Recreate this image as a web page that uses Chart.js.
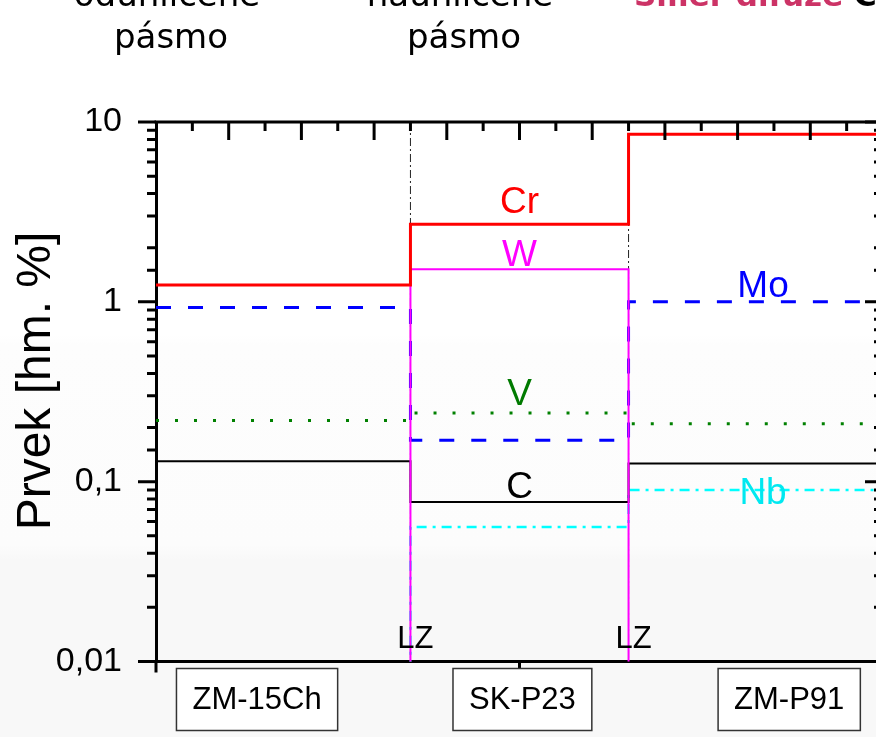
<!DOCTYPE html>
<html>
<head>
<meta charset="utf-8">
<script src="https://cdn.jsdelivr.net/npm/chart.js@4.4.1/dist/chart.umd.min.js"></script>
<style>
  html, body { margin: 0; padding: 0; background: #fff; }
  #wrap {
    width: 876px; height: 737px; overflow: hidden; position: relative;
    background: linear-gradient(to bottom, #fff 0, #fff 335px, #fdfdfd 345px, #fcfcfc 545px, #f8f8f8 560px, #f8f8f8 100%);
  }
  #wrap canvas { position: absolute; left: 0; top: 0; }
</style>
</head>
<body>
<div id="wrap"><canvas id="Chart-canvas" width="900" height="737"></canvas></div>
<script>
// zone boundaries along the weld cross-section (LZ = fusion line)
const zoneEdges = [0, 3.5, 6.5, 10];
const lzAt = [3.5, 6.5];
const zoneNames = ['ZM-15Ch', 'SK-P23', 'ZM-P91'];

// content per zone [hm. %]; ABSENT = element not present (below the axis)
const ABSENT = 0.001;
const cr = [1.24, 2.70, 8.55];
const w  = [ABSENT, 1.52, ABSENT];
const mo = [0.93, 0.17, 1.0];
const v  = [0.219, 0.241, 0.210];
const c  = [0.130, 0.077, 0.126];
const nb = [ABSENT, 0.056, 0.090];

const yTickValues = [0.01, 0.1, 1, 10];
const yTickLabels = ['0,01', '0,1', '1', '10'];

const ctx = document.getElementById('Chart-canvas');

const stepPoints = (vals) => {
  const pts = [];
  vals.forEach((val, i) => {
    pts.push({ x: zoneEdges[i], y: val });
    pts.push({ x: zoneEdges[i + 1], y: val });
  });
  return pts;
};

const series = (label, vals, color, width, dash) => ({
  label: label,
  data: stepPoints(vals),
  borderColor: color,
  borderWidth: width,
  borderDash: dash,
  pointRadius: 0,
  tension: 0,
  fill: false
});

const lzLine = (x) => ({
  label: 'LZ',
  data: [{ x: x, y: 10 }, { x: x, y: 0.01 }],
  borderColor: '#222',
  borderWidth: 1,
  borderDash: [8, 3, 2, 3],
  pointRadius: 0,
  fill: false
});

// element name written next to its line: zone, x position, baseline offset in px
const elementTags = [
  { text: 'Cr', vals: cr, zone: 1, x: 5,    dy: -11, color: '#ff0000' },
  { text: 'W',  vals: w,  zone: 1, x: 5,    dy: -3,  color: '#ff00ff' },
  { text: 'Mo', vals: mo, zone: 2, x: 8.35, dy: -5,  color: '#0000ff' },
  { text: 'V',  vals: v,  zone: 1, x: 5,    dy: -8,  color: '#007a00' },
  { text: 'C',  vals: c,  zone: 1, x: 5,    dy: -4,  color: '#000000' },
  { text: 'Nb', vals: nb, zone: 2, x: 8.35, dy: 14,  color: '#00e8f0' }
];

const extras = {
  id: 'extras',
  afterDraw(chart) {
    const g = chart.ctx;
    const a = chart.chartArea;
    const xs = chart.scales.x;
    const ys = chart.scales.y;
    g.save();

    // top and right frame
    g.strokeStyle = '#000';
    g.lineWidth = 3;
    g.beginPath();
    g.moveTo(a.left - 1.5, a.top);
    g.lineTo(a.right, a.top);
    g.lineTo(a.right, a.bottom);
    g.stroke();

    // log ticks: outward on the left, inward on the right
    ys.ticks.forEach(t => {
      const lg = Math.log10(t.value);
      const major = Math.abs(lg - Math.round(lg)) < 1e-6;
      const len = major ? 18 : 9;
      const py = ys.getPixelForValue(t.value);
      g.beginPath();
      g.moveTo(a.left - len, py);
      g.lineTo(a.left, py);
      g.moveTo(a.right - len, py);
      g.lineTo(a.right, py);
      g.stroke();
    });

    // top axis: inward ticks every 0.5
    for (let xv = 0.5; xv < 10; xv += 0.5) {
      const len = Number.isInteger(xv) ? 18 : 9;
      const px = xs.getPixelForValue(xv);
      g.beginPath();
      g.moveTo(px, a.top);
      g.lineTo(px, a.top + len);
      g.stroke();
    }
    // bottom axis: outward ticks
    [0, 5, 10].forEach(xv => {
      const px = xs.getPixelForValue(xv);
      g.beginPath();
      g.moveTo(px, a.bottom);
      g.lineTo(px, a.bottom + 11);
      g.stroke();
    });

    // LZ labels
    g.fillStyle = '#000';
    g.font = '31px "Liberation Sans", Arial, sans-serif';
    g.textAlign = 'center';
    g.textBaseline = 'alphabetic';
    lzAt.forEach(xv => g.fillText('LZ', xs.getPixelForValue(xv) + 5, a.bottom - 14));

    // element tags
    g.font = '37px "Liberation Sans", Arial, sans-serif';
    elementTags.forEach(tag => {
      g.fillStyle = tag.color;
      g.fillText(tag.text, xs.getPixelForValue(tag.x), ys.getPixelForValue(tag.vals[tag.zone]) + tag.dy);
    });

    // zone name boxes under the axis
    const boxAt = [1.39, 5.04, 8.71];
    g.font = '31px "Liberation Sans", Arial, sans-serif';
    g.textBaseline = 'middle';
    zoneNames.forEach((name, i) => {
      const cx = xs.getPixelForValue(boxAt[i]);
      const bw = g.measureText(name).width + 32;
      const top = a.bottom + 7, h = 62;
      g.fillStyle = '#fff';
      g.fillRect(cx - bw / 2, top, bw, h);
      g.strokeStyle = '#333';
      g.lineWidth = 1.5;
      g.strokeRect(cx - bw / 2, top, bw, h);
      g.fillStyle = '#000';
      g.fillText(name, cx, top + h / 2 + 1);
    });

    // y axis title
    g.save();
    g.translate(37, 381);
    g.rotate(-Math.PI / 2);
    g.font = '48px "Liberation Sans", Arial, sans-serif';
    g.textBaseline = 'middle';
    g.fillStyle = '#000';
    g.fillText('Prvek [hm. %]', 0, 0);
    g.restore();

    // zone captions above the plot
    g.font = '34px "DejaVu Sans", sans-serif';
    g.textBaseline = 'alphabetic';
    g.textAlign = 'center';
    g.fillStyle = '#000';
    g.fillText('oduhličené', 167, 6);
    g.fillText('pásmo', 171, 48);
    g.fillText('nauhličené', 460, 6);
    g.fillText('pásmo', 464, 48);
    g.textAlign = 'left';
    g.font = 'bold 31px "DejaVu Sans", sans-serif';
    g.fillStyle = '#cc3366';
    g.fillText('Smer difúze', 634, 6);
    const wRed = g.measureText('Smer difúze ').width;
    g.fillStyle = '#000';
    g.fillText('C', 634 + wRed, 6);

    g.restore();
  }
};

new Chart(ctx, {
  type: 'line',
  data: {
    datasets: [
      series('Cr', cr, '#ff0000', 3, []),
      series('W', w, '#ff00ff', 2, []),
      series('Mo', mo, '#0000ff', 3, [15, 17]),
      series('V', v, '#008000', 3, [3, 16]),
      series('C', c, '#000000', 2, []),
      series('Nb', nb, '#00ffff', 2.5, [10, 6, 3, 6]),
      lzLine(lzAt[0]),
      lzLine(lzAt[1])
    ]
  },
  options: {
    responsive: false,
    animation: false,
    layout: { padding: { left: 0, top: 122, right: 17, bottom: 0 } },
    plugins: { legend: { display: false }, tooltip: { enabled: false } },
    scales: {
      x: {
        type: 'linear',
        min: 0,
        max: 10,
        ticks: { display: false },
        grid: { drawOnChartArea: false, drawTicks: false },
        border: { color: '#000', width: 3 },
        afterFit: (s) => { s.height = 75.5; }
      },
      y: {
        type: 'logarithmic',
        min: 0.01,
        max: 10,
        ticks: {
          autoSkip: false,
          padding: 34,
          color: '#000',
          font: { family: '"Liberation Sans", Arial, sans-serif', size: 34 },
          callback: (val) => {
            const i = yTickValues.findIndex(tv => Math.abs(Math.log10(tv) - Math.log10(val)) < 1e-6);
            return i >= 0 ? yTickLabels[i] : '';
          }
        },
        grid: { drawOnChartArea: false, drawTicks: false },
        border: { color: '#000', width: 3 },
        afterFit: (s) => { s.width = 156; }
      }
    }
  },
  plugins: [extras]
});
</script>
</body>
</html>
